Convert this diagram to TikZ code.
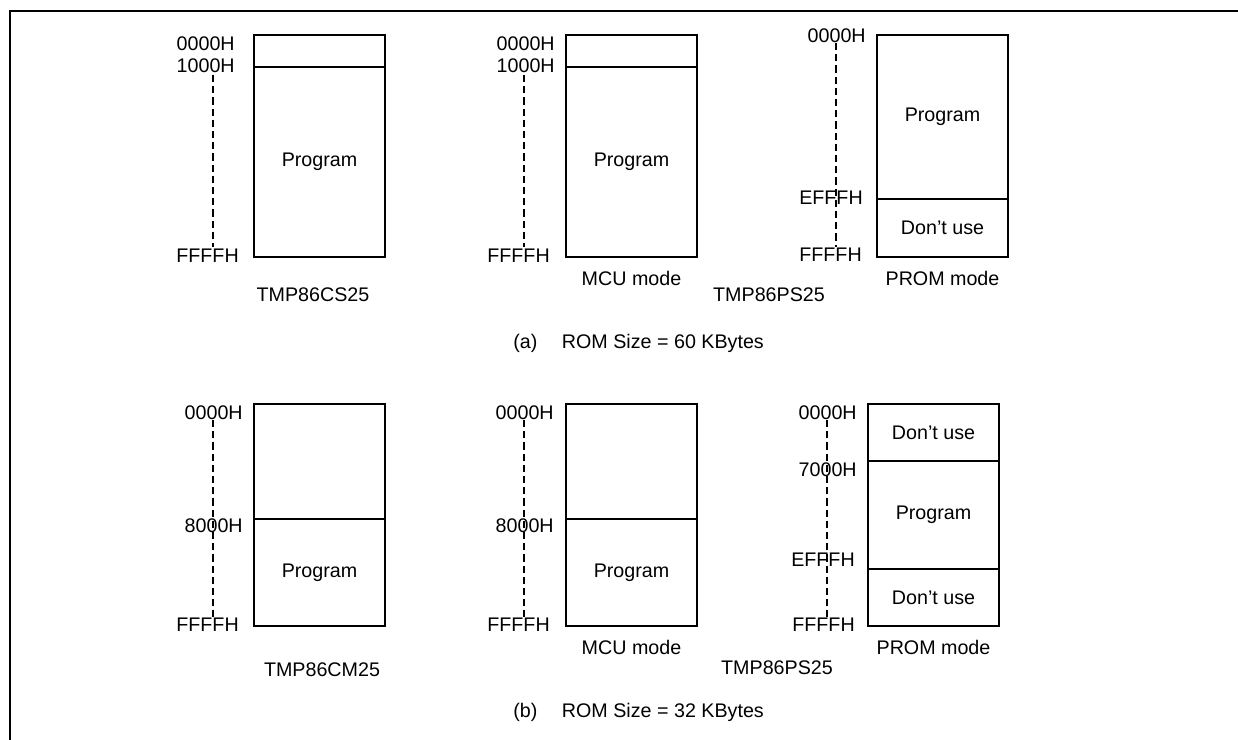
\documentclass[tikz,border=0pt]{standalone}
\usepackage{fontspec}
\setmainfont{Liberation Sans}
\usetikzlibrary{positioning}
\newcommand{\mapfont}{\fontsize{14}{16}\selectfont}

\begin{document}
\begin{tikzpicture}[x=0.025cm, y=-0.025cm,
    memblock/.style={draw, line width=1pt, minimum width=3.275cm, inner sep=0pt,
                     outer sep=0pt, font=\mapfont},
    addr/.style={inner sep=0pt, anchor=east, font=\mapfont},
    addrline/.style={dash pattern=on 0.18cm off 0.1cm, line width=0.9pt},
    tag/.style={inner sep=0pt, font=\mapfont}
]
    \useasboundingbox (0,0) rectangle (1238,740);

    % Frame
    \draw[line width=1.2pt] (10,740) -- (10,11) -- (1238,11);

    % (a) TMP86CS25
    \node[memblock, minimum height=0.8cm, anchor=north west] (a1top) at (254,35) {};
    \node[memblock, minimum height=4.75cm, below=0cm of a1top] (a1prog) {Program};
    \node[addr] (a1l0) at (235,44) {0000H};
    \node[addr] (a1l1) at (235,66) {1000H};
    \node[addr] (a1l2) at (239,256) {FFFFH};
    \coordinate (a1s) at (213,75);
    \coordinate (a1e) at (213,247);
    \draw[addrline] (a1s) -- (a1e);
    \node[tag] (a1name) at (313,295) {TMP86CS25};

    % (a) TMP86PS25, MCU mode
    \node[memblock, minimum height=0.8cm, anchor=north west] (a2top) at (566,35) {};
    \node[memblock, minimum height=4.75cm, below=0cm of a2top] (a2prog) {Program};
    \node[addr] (a2l0) at (555,44) {0000H};
    \node[addr] (a2l1) at (555,66) {1000H};
    \node[addr] (a2l2) at (550,256) {FFFFH};
    \coordinate (a2s) at (524,75);
    \coordinate (a2e) at (524,247);
    \draw[addrline] (a2s) -- (a2e);
    \node[tag, below=0.35cm of a2prog] (a2mode) {MCU mode};

    % (a) TMP86PS25, PROM mode
    \node[memblock, minimum height=4.1cm, anchor=north west] (a3prog) at (877,35) {Program};
    \node[memblock, minimum height=1.45cm, below=0cm of a3prog] (a3dont) {Don’t use};
    \node[addr] (a3l0) at (866,36) {0000H};
    \node[addr] (a3l1) at (863,198) {EFFFH};
    \node[addr] (a3l2) at (862,255) {FFFFH};
    \coordinate (a3s) at (836,43);
    \coordinate (a3e) at (836,247);
    \draw[addrline] (a3s) -- (a3e);
    \node[tag, below=0.35cm of a3dont] (a3mode) {PROM mode};
    \node[tag] (a3name) at (769,295) {TMP86PS25};

    \node[tag, anchor=west] (acap) at (513,343) {(a)\hspace{1.25em}ROM Size\ =\ 60 KBytes};

    % (b) TMP86CM25
    \node[memblock, minimum height=2.875cm, anchor=north west] (b1top) at (254,404) {};
    \node[memblock, minimum height=2.675cm, below=0cm of b1top] (b1prog) {Program};
    \node[addr] (b1l0) at (243,413) {0000H};
    \node[addr] (b1l1) at (243,526) {8000H};
    \node[addr] (b1l2) at (239,625) {FFFFH};
    \coordinate (b1s) at (213,420);
    \coordinate (b1e) at (213,617);
    \draw[addrline] (b1s) -- (b1e);
    \node[tag] (b1name) at (322,670) {TMP86CM25};

    % (b) TMP86PS25, MCU mode
    \node[memblock, minimum height=2.875cm, anchor=north west] (b2top) at (566,404) {};
    \node[memblock, minimum height=2.675cm, below=0cm of b2top] (b2prog) {Program};
    \node[addr] (b2l0) at (554,413) {0000H};
    \node[addr] (b2l1) at (554,526) {8000H};
    \node[addr] (b2l2) at (550,625) {FFFFH};
    \coordinate (b2s) at (524,420);
    \coordinate (b2e) at (524,617);
    \draw[addrline] (b2s) -- (b2e);
    \node[tag, below=0.35cm of b2prog] (b2mode) {MCU mode};

    % (b) TMP86PS25, PROM mode
    \node[memblock, minimum height=1.425cm, anchor=north west] (b3low) at (868,404) {Don’t use};
    \node[memblock, minimum height=2.7cm, below=0cm of b3low] (b3prog) {Program};
    \node[memblock, minimum height=1.425cm, below=0cm of b3prog] (b3high) {Don’t use};
    \node[addr] (b3l0) at (857,413) {0000H};
    \node[addr] (b3l1) at (857,470) {7000H};
    \node[addr] (b3l2) at (855,560) {EFFFH};
    \node[addr] (b3l3) at (855,625) {FFFFH};
    \coordinate (b3s) at (827,420);
    \coordinate (b3e) at (827,617);
    \draw[addrline] (b3s) -- (b3e);
    \node[tag, below=0.35cm of b3high] (b3mode) {PROM mode};
    \node[tag] (b3name) at (777,668) {TMP86PS25};

    \node[tag, anchor=west] (bcap) at (513,712) {(b)\hspace{1.25em}ROM Size\ =\ 32 KBytes};
\end{tikzpicture}
\end{document}
